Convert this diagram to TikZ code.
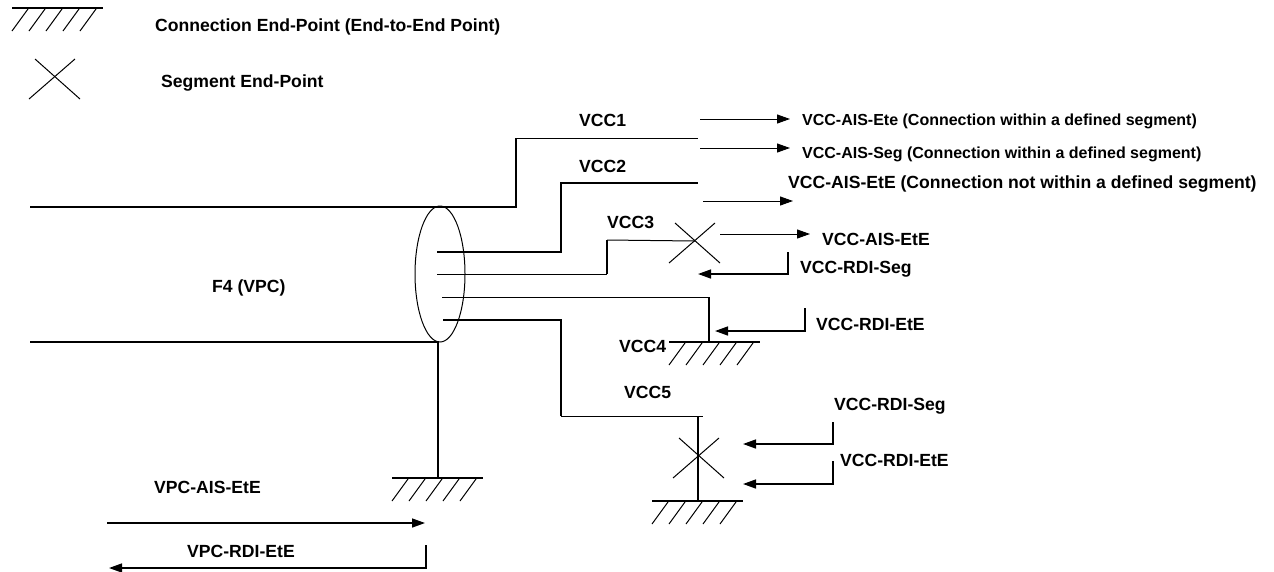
\documentclass[tikz,border=0pt]{standalone}
\usepackage{fontspec}
\setmainfont{Liberation Sans}
\usetikzlibrary{arrows.meta,shapes.geometric}
\tikzset{
  lbl/.style={inner sep=0pt, anchor=base west, font=\fontsize{17.6}{20}\selectfont\bfseries},
  lblsmall/.style={inner sep=0pt, anchor=base west, font=\fontsize{16}{18}\selectfont\bfseries},
  wire/.style={line width=1.5pt},
  thinwire/.style={line width=1pt},
  sigout/.style={line width=1pt, -{Triangle[length=13pt,width=9pt]}},
  sigback/.style={line width=1.5pt, -{Triangle[length=13pt,width=9pt]}}
}
\begin{document}
\begin{tikzpicture}[x=1pt,y=-1pt]
  \useasboundingbox (0,0) rectangle (1274,571);

  % Points of the wires
  \foreach \n/\x/\y in {vcca/516/207,vccb/516/138,vccc/698/138,
      vcd/437/252,vce/561/252,vcf/561/183,vcg/698/183,
      vch/437/274,vci/607/274,vcj/607/240,
      vck/442/297,vcl/709/297,vcm/709/342,
      vcn/443/320,vco/561/320,vcp/561/416,vcq/703/416,vcr/698/416,vcs/698/501,
      vpca/30/207,vpcb/30/342,vpcc/438/342,vpcd/438/478}
    \coordinate (\n) at (\x,\y);

  % Connection end-points
  \foreach \x/\y in {12/8,669/342,392/478,652/501} {
    \draw[wire] (\x,\y) -- ++(91,0);
    \foreach \i in {0,1,...,4}
      \draw[thinwire] (\x+\i*17,\y+23) -- ++(16,-22);
  }

  % Segment end-points
  \foreach \n/\x/\y in {xleg/55/77,xvcc3/695/241,xvcc5/699/456} {
    \coordinate (\n) at (\x,\y);
    \draw[thinwire] (\x-20,\y-18) -- (\x+25,\y+22);
    \draw[thinwire] (\x+20,\y-18) -- (\x-26,\y+22);
  }

  % Virtual path
  \node[ellipse, draw, line width=1pt, minimum width=50pt, minimum height=136pt, inner sep=0pt] (vpc) at (440,274) {};
  \draw[wire] (vpca) -- (vcca) -- (vccb);
  \draw[thinwire] (vccb) -- (vccc);
  \draw[wire] (vpcb) -- (vpcc) -- (vpcd);

  % Virtual channels
  \draw[wire] (vcd) -- (vce) -- (vcf) -- (vcg);
  \draw[thinwire] (vch) -- (vci);
  \draw[wire] (vci) -- (vcj);
  \draw[thinwire] (vcj) -- (xvcc3);
  \draw[thinwire] (vck) -- (vcl);
  \draw[wire] (vcl) -- (vcm);
  \draw[wire] (vcn) -- (vco) -- (vcp);
  \draw[thinwire] (vcp) -- (vcq);
  \draw[wire] (vcr) -- (vcs);

  % Arrows
  \foreach \n/\x/\y/\l in {aa/700/119/90,ab/700/148/90,ac/703/201/90,ad/720/234/90} {
    \coordinate (\n s) at (\x,\y);
    \coordinate (\n e) at (\x+\l,\y);
    \draw[sigout] (\n s) -- (\n e);
  }
  \coordinate (aes) at (107,523);
  \coordinate (aee) at (425,523);
  \draw[sigback] (aes) -- (aee);
  \foreach \n/\x/\y/\h/\l in {ba/788/252/22/90,bb/805/308/23/90,bc/833/422/22/90,bd/833/461/23/90,be/426/545/23/317} {
    \coordinate (\n s) at (\x,\y);
    \coordinate (\n c) at (\x,\y+\h);
    \coordinate (\n e) at (\x-\l,\y+\h);
    \draw[sigback] (\n s) -- (\n c) -- (\n e);
  }

  % Labels
  \node[lbl] (legcon) at (155,31) {Connection End-Point (End-to-End Point)};
  \node[lbl] (legseg) at (161,87) {Segment End-Point};
  \node[lbl] (lvcc1) at (579,126) {VCC1};
  \node[lbl] (lvcc2) at (579,172) {VCC2};
  \node[lbl] (lvcc3) at (607,228) {VCC3};
  \node[lbl] (lvcc4) at (619,352) {VCC4};
  \node[lbl] (lvcc5) at (624,398) {VCC5};
  \node[lbl] (lf4) at (212,292) {F4 (VPC)};
  \node[lblsmall] (lete) at (802,125) {VCC-AIS-Ete (Connection within a defined segment)};
  \node[lblsmall] (lseg) at (802,158) {VCC-AIS-Seg (Connection within a defined segment)};
  \node[lbl] (lnot) at (788,188) {VCC-AIS-EtE (Connection not within a defined segment)};
  \node[lbl] (lais) at (822,245) {VCC-AIS-EtE};
  \node[lbl] (lrdia) at (800,273) {VCC-RDI-Seg};
  \node[lbl] (lrdib) at (816,330) {VCC-RDI-EtE};
  \node[lbl] (lrdic) at (834,410) {VCC-RDI-Seg};
  \node[lbl] (lrdid) at (840,466) {VCC-RDI-EtE};
  \node[lbl] (lvpca) at (154,493) {VPC-AIS-EtE};
  \node[lbl] (lvpcb) at (187,557) {VPC-RDI-EtE};
\end{tikzpicture}
\end{document}
